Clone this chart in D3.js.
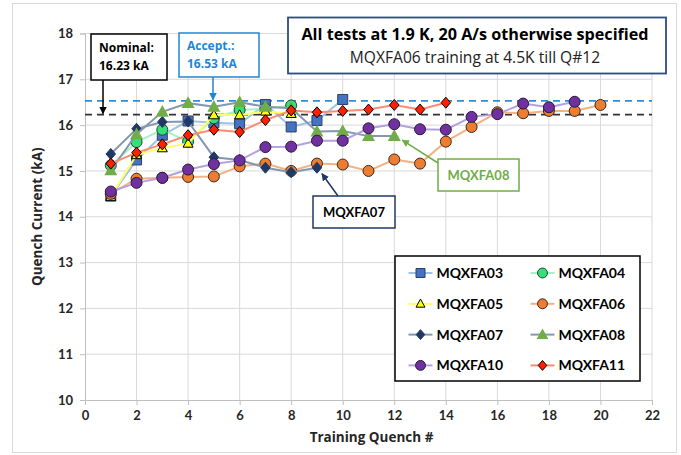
<!DOCTYPE html>
<html><head><meta charset="utf-8">
<script src="https://cdn.jsdelivr.net/npm/d3@7"></script>
<style>body{margin:0;background:#fff}svg{display:block;font-family:Lato,"Open Sans",sans-serif}</style>
</head><body><svg id="c" width="681" height="455"></svg>
<script>
const xTicks = [0,2,4,6,8,10,12,14,16,18,20,22];
const yTicks = [10,11,12,13,14,15,16,17,18];
const seriesNames = ["MQXFA03","MQXFA04","MQXFA05","MQXFA06","MQXFA07","MQXFA08","MQXFA10","MQXFA11"];
const A03 = [14.45,15.24,15.78,16.09,16.05,16.03,16.45,15.96,16.1,16.56];
const A04 = [15.12,15.63,15.9,15.64,16.15,16.33,16.36,16.43];
const A05 = [14.44,15.35,15.5,15.6,16.22,16.22,16.3,16.25];
const A06 = [14.5,14.83,14.85,14.87,14.88,15.1,15.16,15.0,15.16,15.14,15.0,15.25,15.16,15.64,15.96,16.28,16.26,16.31,16.31,16.44];
const A07 = [15.37,15.92,16.07,16.08,15.3,15.24,15.07,14.97,15.07];
const A08 = [15.01,15.8,16.29,16.48,16.4,16.5,16.4,16.37,15.86,15.87,15.76,15.76];
const A10 = [14.55,14.74,14.85,15.03,15.15,15.23,15.52,15.53,15.66,15.66,15.93,16.02,15.91,15.9,16.18,16.24,16.47,16.39,16.51];
const A11 = [15.16,15.4,15.58,15.78,15.9,15.85,16.11,16.32,16.28,16.31,16.34,16.44,16.34,16.49];
const nominal = 16.23, accept = 16.53;

const styles = {
  MQXFA03:{line:"#9DC3E6", shape:"square", fill:"#4472C4", stroke:"#2F3F5F", size:10},
  MQXFA04:{line:"#A8F0C6", shape:"circle", fill:"#33E07A", stroke:"#2A4030", size:11},
  MQXFA05:{line:"#FFFF66", shape:"triangle", fill:"#FFFF00", stroke:"#000", size:10},
  MQXFA06:{line:"#F4B183", shape:"circle", fill:"#ED7D31", stroke:"#3A2A20", size:11},
  MQXFA07:{line:"#8497B0", shape:"diamond", fill:"#203864", stroke:"#203864", size:10},
  MQXFA08:{line:"#8497B0", shape:"triangle", fill:"#70AD47", stroke:"none", size:13},
  MQXFA10:{line:"#B4A0E0", shape:"circle", fill:"#7030A0", stroke:"#2A1A3A", size:11},
  MQXFA11:{line:"#FF8B73", shape:"diamond", fill:"#FF2000", stroke:"#000", size:10}
};
const dataArr = [A03,A04,A05,A06,A07,A08,A10,A11];
const series = seriesNames.map((n,i)=>({name:n, values:dataArr[i].map((v,j)=>({x:j+1,y:v}))}));

const svg = d3.select("#c");
const L=85, R=652, T=33.5, B=400;
const x = d3.scaleLinear().domain([0,22]).range([L,R]);
const y = d3.scaleLinear().domain([10,18]).range([B,T]);
const OS = "'Open Sans',sans-serif";

// outer frame
svg.append("rect").attr("x",12.5).attr("y",3.5).attr("width",664).attr("height",449).attr("fill","none").attr("stroke","#D9D9D9");

// grid
svg.append("g").selectAll("line").data(xTicks.slice(1)).join("line")
  .attr("x1",d=>x(d)).attr("x2",d=>x(d)).attr("y1",T).attr("y2",B).attr("stroke","#D9D9D9");
svg.append("g").selectAll("line").data(yTicks.slice(1)).join("line")
  .attr("x1",L).attr("x2",R).attr("y1",d=>y(d)).attr("y2",d=>y(d)).attr("stroke","#D9D9D9");

// axes
const xa = svg.append("g").attr("transform",`translate(0,${B})`).call(d3.axisBottom(x).tickValues(xTicks).tickSize(5).tickPadding(6));
const ya = svg.append("g").attr("transform",`translate(${L},0)`).call(d3.axisLeft(y).tickValues(yTicks).tickSize(5).tickPadding(7));
[xa,ya].forEach(a=>{
  a.select(".domain").attr("stroke","#BFBFBF");
  a.selectAll(".tick line").attr("stroke","#BFBFBF");
  a.selectAll("text").attr("font-size",13).attr("font-weight","bold").attr("fill","#262626").attr("font-family","Lato,sans-serif");
});
svg.append("text").attr("x",(L+R)/2+3).attr("y",442).attr("text-anchor","middle").attr("font-family",OS)
  .attr("font-size",13.5).attr("font-weight","bold").attr("fill","#262626").text("Training Quench #");
svg.append("text").attr("transform",`translate(42,${(T+B)/2}) rotate(-90)`).attr("text-anchor","middle").attr("font-family",OS)
  .attr("font-size",13.5).attr("font-weight","bold").attr("fill","#262626").text("Quench Current (kA)");

// reference lines
svg.append("line").attr("x1",L).attr("x2",R).attr("y1",y(accept)).attr("y2",y(accept))
  .attr("stroke","#2E8BD8").attr("stroke-width",1.6).attr("stroke-dasharray","7,5");
svg.append("line").attr("x1",L).attr("x2",R).attr("y1",y(nominal)).attr("y2",y(nominal))
  .attr("stroke","#333").attr("stroke-width",1.6).attr("stroke-dasharray","7,5");

// markers
function symbolPath(shape,size){
  const s=size/2;
  if(shape==="square") return `M${-s},${-s}H${s}V${s}H${-s}Z`;
  if(shape==="circle") return d3.symbol(d3.symbolCircle, Math.PI*s*s)();
  if(shape==="triangle") return `M0,${-s*1.05}L${s*1.0},${s*0.75}L${-s*1.0},${s*0.75}Z`;
  if(shape==="diamond") return `M0,${-s*1.1}L${s*0.95},0L0,${s*1.1}L${-s*0.95},0Z`;
}
const line = d3.line().x(d=>x(d.x)).y(d=>y(d.y));
const g = svg.append("g");
series.forEach(s=>{
  const st=styles[s.name];
  const sg=g.append("g");
  sg.append("path").attr("d",line(s.values)).attr("fill","none").attr("stroke",st.line).attr("stroke-width",2);
  sg.selectAll("path.m").data(s.values).join("path").attr("class","m")
    .attr("transform",d=>`translate(${x(d.x)},${y(d.y)})`)
    .attr("d",symbolPath(st.shape,st.size)).attr("fill",st.fill)
    .attr("stroke",st.stroke).attr("stroke-width",st.stroke==="none"?0:1);
});

// arrowheads
const defs=svg.append("defs");
function marker(id,color){
  defs.append("marker").attr("id",id).attr("viewBox","0 0 10 10").attr("refX",9).attr("refY",5)
    .attr("markerWidth",5).attr("markerHeight",5).attr("orient","auto")
    .append("path").attr("d","M0,0L10,5L0,10Z").attr("fill",color);
}
marker("aK","#000"); marker("aB","#1F86D6"); marker("aN","#203864"); marker("aG","#70AD47");

// Nominal box
svg.append("line").attr("x1",103).attr("x2",103).attr("y1",80).attr("y2",y(nominal)-1)
  .attr("stroke","#000").attr("stroke-width",1.5).attr("marker-end","url(#aK)");
svg.append("rect").attr("x",91).attr("y",34).attr("width",76).attr("height",46).attr("fill","#fff").attr("stroke","#000").attr("stroke-width",1.5);
svg.append("text").attr("x",99).attr("y",52).attr("font-family",OS).attr("font-size",12).attr("font-weight","bold").attr("fill","#000").text("Nominal:");
svg.append("text").attr("x",99).attr("y",70).attr("font-family",OS).attr("font-size",12).attr("font-weight","bold").attr("fill","#000").text("16.23 kA");

// Accept box
svg.append("line").attr("x1",213).attr("x2",213).attr("y1",77).attr("y2",y(accept)-1)
  .attr("stroke","#1F86D6").attr("stroke-width",1.5).attr("marker-end","url(#aB)");
svg.append("rect").attr("x",179).attr("y",33).attr("width",80).attr("height",44).attr("fill","#fff").attr("stroke","#1F86D6").attr("stroke-width",1.5);
svg.append("text").attr("x",187).attr("y",50).attr("font-family",OS).attr("font-size",12).attr("font-weight","bold").attr("fill","#1F86D6").text("Accept.:");
svg.append("text").attr("x",187).attr("y",68).attr("font-family",OS).attr("font-size",12).attr("font-weight","bold").attr("fill","#1F86D6").text("16.53 kA");

// title box
svg.append("rect").attr("x",288).attr("y",17.5).attr("width",378).attr("height",56).attr("fill","#fff").attr("stroke","#2F4A8A").attr("stroke-width",1.8);
svg.append("text").attr("x",475).attr("y",40).attr("text-anchor","middle").attr("font-family",OS).attr("font-size",16.2).attr("font-weight","bold").attr("fill","#000")
  .text("All tests at 1.9 K, 20 A/s otherwise specified");
svg.append("text").attr("x",475).attr("y",63).attr("text-anchor","middle").attr("font-family",OS).attr("font-size",15.6).attr("fill","#222")
  .text("MQXFA06 training at 4.5K till Q#12");

// MQXFA07 callout
svg.append("line").attr("x1",338).attr("y1",196).attr("x2",x(9)+5).attr("y2",y(A07[8])+6)
  .attr("stroke","#203864").attr("stroke-width",1.5).attr("marker-end","url(#aN)");
svg.append("rect").attr("x",313).attr("y",196).attr("width",82).attr("height",32).attr("fill","#fff").attr("stroke","#203864").attr("stroke-width",1.5);
svg.append("text").attr("x",354).attr("y",217).attr("text-anchor","middle").attr("font-size",13).attr("font-weight","bold").attr("fill","#000").text("MQXFA07");

// MQXFA08 callout
svg.append("line").attr("x1",438).attr("y1",163).attr("x2",x(12)+8).attr("y2",y(A08[11])+4)
  .attr("stroke","#70AD47").attr("stroke-width",1.5).attr("marker-end","url(#aG)");
svg.append("rect").attr("x",438).attr("y",159).attr("width",81).attr("height",32).attr("fill","#fff").attr("stroke","#70AD47").attr("stroke-width",1.5);
svg.append("text").attr("x",478.5).attr("y",180).attr("text-anchor","middle").attr("font-size",13).attr("font-weight","bold").attr("fill","#70AD47").text("MQXFA08");

// legend
const lg = svg.append("g");
lg.append("rect").attr("x",395).attr("y",256).attr("width",245).attr("height",125).attr("fill","#fff").attr("stroke","#000").attr("stroke-width",1.5);
seriesNames.forEach((n,i)=>{
  const st=styles[n];
  const cx = i%2===0 ? 420.5 : 542.5;
  const cy = 273 + Math.floor(i/2)*30.8;
  lg.append("line").attr("x1",cx-12).attr("x2",cx+12).attr("y1",cy).attr("y2",cy).attr("stroke",st.line).attr("stroke-width",2);
  lg.append("path").attr("transform",`translate(${cx},${cy})`).attr("d",symbolPath(st.shape,st.size*0.9))
    .attr("fill",st.fill).attr("stroke",st.stroke).attr("stroke-width",st.stroke==="none"?0:1);
  lg.append("text").attr("x",cx+16).attr("y",cy+5).attr("font-size",14).attr("font-weight","bold").attr("fill","#000").text(n);
});
</script></body></html>
